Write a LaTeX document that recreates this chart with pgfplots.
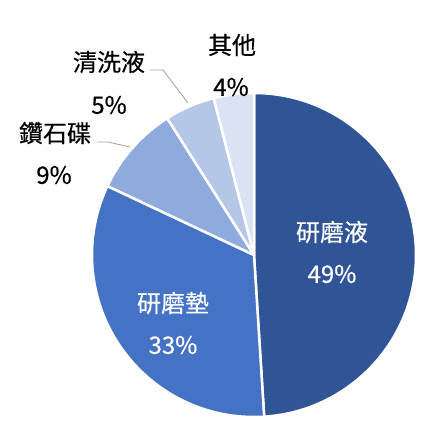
\documentclass[border=0pt]{standalone}
\usepackage{fontspec}
\setmainfont{Noto Sans CJK TC}[FakeBold=0.4]
\usepackage{pgfplots}
\usepackage{pgfplotstable}
\pgfplotsset{compat=1.18}

\definecolor{sliceA}{HTML}{2F5597}
\definecolor{sliceB}{HTML}{4472C4}
\definecolor{sliceC}{HTML}{8FAADC}
\definecolor{sliceD}{HTML}{B4C7E7}
\definecolor{sliceE}{HTML}{DAE3F3}
\definecolor{leader}{HTML}{A6A6A6}

% share in percent, clockwise from 12 o'clock
\pgfplotstableread{
part value
1 49
2 33
3 9
4 5
5 4
}\piedata

\begin{document}
\begin{tikzpicture}
    \pgfplotstablegetelem{0}{value}\of\piedata \let\vA\pgfplotsretval
    \pgfplotstablegetelem{1}{value}\of\piedata \let\vB\pgfplotsretval
    \pgfplotstablegetelem{2}{value}\of\piedata \let\vC\pgfplotsretval
    \pgfplotstablegetelem{3}{value}\of\piedata \let\vD\pgfplotsretval
    \pgfplotstablegetelem{4}{value}\of\piedata \let\vE\pgfplotsretval
    \pgfmathsetmacro\aA{90}
    \pgfmathsetmacro\aB{\aA-3.6*\vA}
    \pgfmathsetmacro\aC{\aB-3.6*\vB}
    \pgfmathsetmacro\aD{\aC-3.6*\vC}
    \pgfmathsetmacro\aE{\aD-3.6*\vD}
    \pgfmathsetmacro\aF{\aE-3.6*\vE}
    \def\R{162}
    \begin{axis}[
            x=1pt, y=1pt,
            xmin=-254, xmax=194,
            ymin=-185, ymax=255,
            hide axis,
            clip=false,
        ]
        \path (axis cs:-254,-185) rectangle (axis cs:194,255);
        \filldraw[fill=sliceA, draw=white, line width=2.5pt, line join=round]
            (axis cs:0,0) -- ({\R*cos(\aA)}, {\R*sin(\aA)}) arc[start angle=\aA, end angle=\aB, radius=\R pt] -- cycle;
        \filldraw[fill=sliceB, draw=white, line width=2.5pt, line join=round]
            (axis cs:0,0) -- ({\R*cos(\aB)}, {\R*sin(\aB)}) arc[start angle=\aB, end angle=\aC, radius=\R pt] -- cycle;
        \filldraw[fill=sliceC, draw=white, line width=2.5pt, line join=round]
            (axis cs:0,0) -- ({\R*cos(\aC)}, {\R*sin(\aC)}) arc[start angle=\aC, end angle=\aD, radius=\R pt] -- cycle;
        \filldraw[fill=sliceD, draw=white, line width=2.5pt, line join=round]
            (axis cs:0,0) -- ({\R*cos(\aD)}, {\R*sin(\aD)}) arc[start angle=\aD, end angle=\aE, radius=\R pt] -- cycle;
        \filldraw[fill=sliceE, draw=white, line width=2.5pt, line join=round]
            (axis cs:0,0) -- ({\R*cos(\aE)}, {\R*sin(\aE)}) arc[start angle=\aE, end angle=\aF, radius=\R pt] -- cycle;

        % leader lines
        \draw[leader, line width=0.9pt] (axis cs:-157,113) -- (axis cs:-146,113) -- (axis cs:-124,108);
        \draw[leader, line width=0.9pt] (axis cs:-104,185) -- (axis cs:-91,185) -- (axis cs:-66,152);

        % labels
        \begin{scope}[every node/.style={font=\fontsize{24}{28}\selectfont, inner sep=0pt}]
            \node[white] at (axis cs:78,23) {研磨液};
            \node[white] at (axis cs:78,-19) {\vA\%};
            \node[white] at (axis cs:-81,-48) {研磨墊};
            \node[white] at (axis cs:-81,-90) {\vB\%};
            \node at (axis cs:-199,122) {鑽石碟};
            \node at (axis cs:-200,80) {\vC\%};
            \node at (axis cs:-145,193) {清洗液};
            \node at (axis cs:-145,150) {\vD\%};
            \node at (axis cs:-22,210) {其他};
            \node at (axis cs:-23,168) {\vE\%};
        \end{scope}
    \end{axis}
\end{tikzpicture}
\end{document}
